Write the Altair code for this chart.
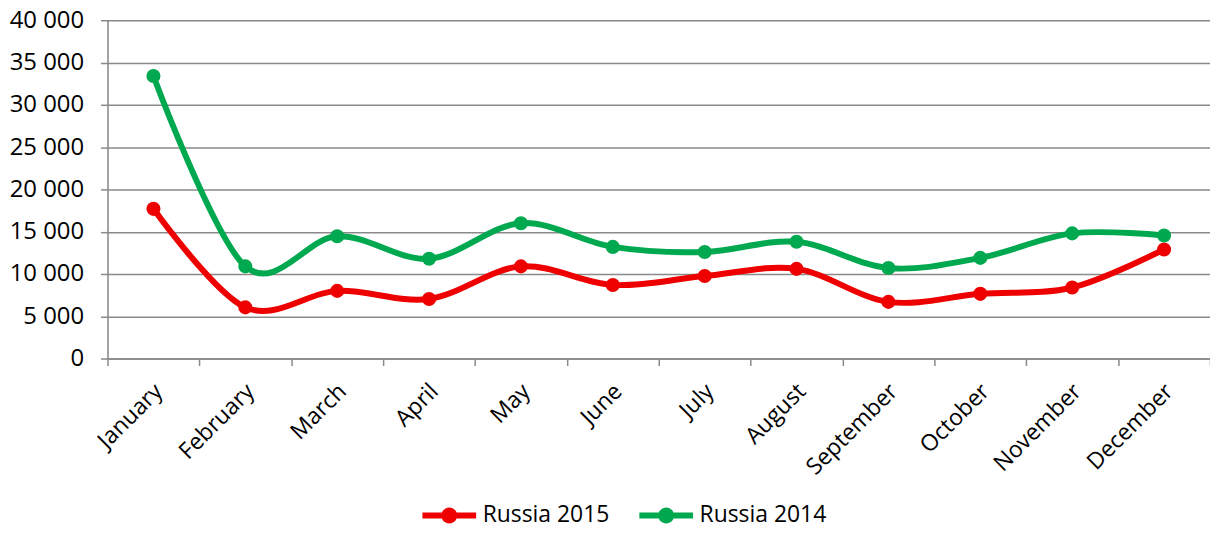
import altair as alt
import pandas as pd

months = ["January", "February", "March", "April", "May", "June", "July",
          "August", "September", "October", "November", "December"]
russia_2015 = [17700, 6050, 8000, 7050, 10900, 8700, 9750, 10600, 6700, 7650, 8400, 12900]
russia_2014 = [33400, 10900, 14450, 11800, 16000, 13200, 12600, 13800, 10700, 11900, 14800, 14550]
series_names = ["Russia 2015", "Russia 2014"]
series_colors = ["#EE0000", "#00A94F"]

rows = []
for name, vals in zip(series_names, [russia_2015, russia_2014]):
    for m, v in zip(months, vals):
        rows.append({"month": m, "value": v, "series": name})
df = pd.DataFrame(rows)

FONT = "Open Sans"
GRID = "#8a8a8a"

x_enc = alt.X("month:N", sort=months, bandPosition=0.5,
              scale=alt.Scale(type="band", paddingInner=0, paddingOuter=0),
              axis=alt.Axis(title=None, labelAngle=-45, labelAlign="right", labelBaseline="middle",
                            labelFont=FONT, labelFontSize=23, labelColor="#000000",
                            labelPadding=22, labelOffset=5, tickBand="extent", tickSize=7,
                            tickColor=GRID, tickWidth=1.5, domainColor=GRID, domainWidth=1.5,
                            grid=False))
y_enc = alt.Y("value:Q",
              scale=alt.Scale(domain=[0, 40000], nice=False),
              axis=alt.Axis(title=None, values=list(range(0, 40001, 5000)),
                            labelExpr="replace(format(datum.value, ','), regexp(',', 'g'), ' ')",
                            labelFont=FONT, labelFontSize=24, labelColor="#000000",
                            labelPadding=17, tickSize=7, tickColor=GRID, tickWidth=1.5,
                            domainColor=GRID, domainWidth=1.5,
                            grid=True, gridColor=GRID, gridWidth=1.5))

color_scale = alt.Scale(domain=series_names, range=series_colors)

# legend glyph: line with a dot, drawn in units of 10px (symbolSize 400)
sym = ("M-2.7,-0.3L2.7,-0.3L2.7,0.3L-2.7,0.3Z "
       "M0.8,0A0.8,0.8 0 1 1 -0.8,0A0.8,0.8 0 1 1 0.8,0Z")

legend = alt.Legend(title=None, orient="none", direction="horizontal",
                    legendX=332, legendY=486,
                    symbolType=sym, symbolSize=400,
                    symbolStrokeWidth=0, symbolOpacity=1,
                    labelFont=FONT, labelFontSize=23, labelColor="#000000",
                    labelOffset=22, columnPadding=29)

color_enc = alt.Color("series:N", scale=color_scale, sort=series_names, legend=legend)

lines = alt.Chart(df).mark_line(interpolate="cardinal", strokeWidth=6).encode(
    x=x_enc, y=y_enc, color=color_enc,
)

points = alt.Chart(df).mark_point(filled=True, size=200, opacity=1).encode(
    x=x_enc, y=y_enc, color=color_enc,
)

chart = alt.layer(lines, points).properties(
    width=1108, height=340,
    autosize=alt.AutoSizeParams(type="none"),
    padding={"left": 100, "top": 11, "right": 0, "bottom": 168},
).configure_view(stroke=None).configure(background="white")

chart.save("out.html", embed_options={"renderer": "svg", "actions": False})
